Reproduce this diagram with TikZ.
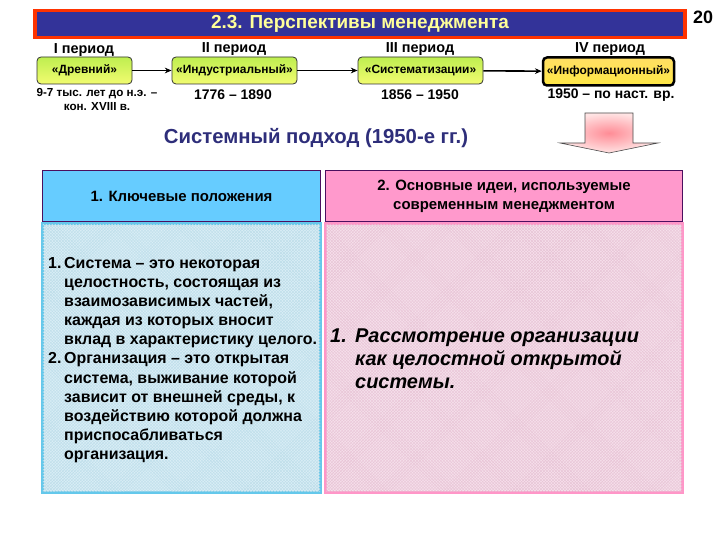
\documentclass[tikz,border=0pt]{standalone}
\usepackage{fontspec}
\setmainfont{Liberation Sans}
\usetikzlibrary{positioning,arrows.meta,patterns}
\definecolor{titleblue}{RGB}{51,51,153}
\definecolor{titlered}{RGB}{255,51,0}
\definecolor{titletext}{RGB}{255,255,153}
\definecolor{navytext}{RGB}{46,46,122}
\definecolor{hdrblue}{RGB}{102,204,255}
\definecolor{hdrpink}{RGB}{255,153,204}
\definecolor{hdrline}{RGB}{75,15,95}
\definecolor{eratop}{RGB}{190,238,80}
\definecolor{erabot}{RGB}{242,252,112}
\definecolor{infofill}{RGB}{255,222,100}
\definecolor{bluebody}{RGB}{218,238,246}
\definecolor{bluemesh}{RGB}{190,222,234}
\definecolor{blueedge}{RGB}{100,200,235}
\definecolor{pinkbody}{RGB}{246,224,235}
\definecolor{pinkmesh}{RGB}{232,196,214}
\definecolor{pinkedge}{RGB}{255,150,200}
\definecolor{arrowin}{RGB}{255,140,150}
\definecolor{arrowout}{RGB}{255,228,228}
\newcommand{\itemnum}[1]{\makebox[16bp][l]{#1}}
\newcommand{\itemgap}{\hspace*{16bp}}
\tikzset{
  fig/.style={font=\fontsize{12}{14}\selectfont},
  titlebar/.style={draw=titlered,line width=3.5bp,fill=titleblue,text=titletext,
                   minimum width=650bp,minimum height=27bp,inner sep=0pt,
                   font=\fontsize{19}{22}\selectfont\bfseries},
  pagenum/.style={font=\fontsize{18}{20}\selectfont\bfseries,inner sep=0pt},
  period/.style={font=\fontsize{14.5}{16}\selectfont\bfseries,inner sep=0pt},
  era/.style={draw=black!80,line width=0.8bp,rounded corners=4bp,top color=eratop,
              bottom color=erabot,minimum height=27bp,inner sep=0pt,
              font=\fontsize{12}{14}\selectfont\bfseries},
  infobox/.style={era,draw=black,line width=2.5bp,fill=infofill,top color=infofill,
                  bottom color=infofill!70!yellow,minimum height=28bp},
  datelbl/.style={font=\fontsize{14}{15}\selectfont\bfseries,inner sep=0pt,align=center},
  ln/.style={-{Stealth[length=2.4mm,width=2mm]},line width=1.6bp},
  hdr/.style={draw=hdrline,line width=1.6bp,minimum height=51bp,inner sep=0pt,
              align=center,font=\fontsize{15}{19}\selectfont\bfseries},
  body/.style={line width=3bp,minimum height=268bp,inner sep=0pt},
}

\begin{document}
\begin{tikzpicture}[fig,x=1bp,y=-1bp]
\useasboundingbox (0,0) rectangle (720,540);

% Title bar and page number
\node[titlebar] (title) at (360,24) {2.3. Перспективы менеджмента};
\node[pagenum] (page) at (703,17) {20};

% Row 1: period names
\node[period] (p1) at (84,50) {I период};
\node[period] (p2) at (234,49) {II период};
\node[period] (p3) at (420,49) {III период};
\node[period] (p4) at (610,49) {IV период};

% Row 2: era boxes
\node[era,minimum width=95bp] (ancient) at (84.5,70.5) {«Древний»};
\node[era,minimum width=125bp] (industrial) at (234.5,70.5) {«Индустриальный»};
\node[era,minimum width=125bp] (system) at (420.5,70.5) {«Систематизации»};
\node[infobox,minimum width=131bp] (info) at (608.5,71.5) {«Информационный»};
\draw[ln] (ancient) -- (industrial);
\draw[ln] (industrial) -- (system);
\draw[ln] (system) -- (info);

% Row 3: dates
\node[datelbl,font=\fontsize{11.7}{15}\selectfont\bfseries] (d1) at (97,99.5)
  {9-7 тыс. лет до н.э. –\\кон. XVIII в.};
\node[datelbl] (d2) at (233,95) {1776 – 1890};
\node[datelbl] (d3) at (420,95) {1856 – 1950};
\node[datelbl] (d4) at (611,95) {1950 – по наст. вр.};

% Systems approach heading and pink arrow
\node[font=\fontsize{20.4}{23}\selectfont\bfseries,text=navytext,inner sep=0pt]
  (approach) at (316,138) {Системный подход (1950-е гг.)};
\path[draw=black!70,line width=0.6bp,inner color=arrowin,outer color=arrowout]
  (585,113) -- (633,113) -- (633,143) -- (658,143) -- (609,153)
  -- (560,143) -- (585,143) -- cycle;

% Column headers
\node[hdr,fill=hdrblue,minimum width=278bp] (keys) at (181.5,196) {1. Ключевые положения};
\node[hdr,fill=hdrpink,minimum width=357bp] (ideas) at (504,196)
  {2. Основные идеи, используемые\\современным менеджментом};

% Column bodies
\node[body,draw=blueedge,fill=bluebody,minimum width=278bp] (keysbody) at (181.5,358) {};
\fill[pattern=crosshatch,pattern color=bluemesh] ([shift={(2,-2)}]keysbody.south west)
  rectangle ([shift={(-2,2)}]keysbody.north east);
\node[body,draw=pinkedge,fill=pinkbody,minimum width=357bp] (ideasbody) at (504,358) {};
\fill[pattern=crosshatch,pattern color=pinkmesh] ([shift={(2,-2)}]ideasbody.south west)
  rectangle ([shift={(-2,2)}]ideasbody.north east);

% Column texts
\node[anchor=west,align=left,inner sep=0pt,font=\fontsize{16}{19.2}\selectfont\bfseries]
  (keystext) at (48,360) {%
  \itemnum{1.}Система – это некоторая\\
  \itemgap целостность, состоящая из\\
  \itemgap взаимозависимых частей,\\
  \itemgap каждая из которых вносит\\
  \itemgap вклад в характеристику целого.\\
  \itemnum{2.}Организация – это открытая\\
  \itemgap система, выживание которой\\
  \itemgap зависит от внешней среды, к\\
  \itemgap воздействию которой должна\\
  \itemgap приспосабливаться\\
  \itemgap организация.};
\node[anchor=west,align=left,inner sep=0pt,
      font=\fontsize{20}{23}\selectfont\bfseries\itshape]
  (ideastext) at (330,359) {%
  \makebox[25bp][l]{1.}Рассмотрение организации\\
  \hspace*{25bp}как целостной открытой\\
  \hspace*{25bp}системы.};

\end{tikzpicture}
\end{document}
